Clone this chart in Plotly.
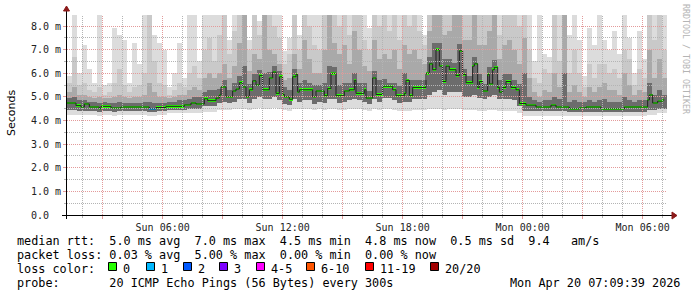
import numpy as np
import pandas as pd
import plotly.graph_objects as go

# ---------------- data ----------------
# median RTT steps (ms) and the time each step starts
med_t = ["2026-04-19 01:13","2026-04-19 01:40","2026-04-19 01:55","2026-04-19 02:05","2026-04-19 02:20",
         "2026-04-19 02:50","2026-04-19 02:55","2026-04-19 03:25","2026-04-19 03:55","2026-04-19 05:20",
         "2026-04-19 05:40","2026-04-19 06:10","2026-04-19 07:05","2026-04-19 07:25","2026-04-19 07:40",
         "2026-04-19 08:05","2026-04-19 08:15","2026-04-19 08:40","2026-04-19 08:50","2026-04-19 08:55",
         "2026-04-19 09:10","2026-04-19 09:30","2026-04-19 09:40","2026-04-19 09:50","2026-04-19 10:00",
         "2026-04-19 10:10","2026-04-19 10:20","2026-04-19 10:30","2026-04-19 10:40","2026-04-19 10:50",
         "2026-04-19 11:00","2026-04-19 11:20","2026-04-19 11:30","2026-04-19 11:40","2026-04-19 11:50",
         "2026-04-19 12:00","2026-04-19 12:05","2026-04-19 12:20","2026-04-19 12:30","2026-04-19 12:40",
         "2026-04-19 12:45","2026-04-19 12:50","2026-04-19 13:30","2026-04-19 13:40","2026-04-19 14:05",
         "2026-04-19 14:15","2026-04-19 14:25","2026-04-19 14:40","2026-04-19 15:05","2026-04-19 15:20",
         "2026-04-19 15:35","2026-04-19 15:40","2026-04-19 16:05","2026-04-19 16:10","2026-04-19 16:30",
         "2026-04-19 16:40","2026-04-19 17:00","2026-04-19 17:30","2026-04-19 17:40","2026-04-19 18:05",
         "2026-04-19 18:10","2026-04-19 18:20","2026-04-19 18:30","2026-04-19 19:10","2026-04-19 19:20",
         "2026-04-19 19:30","2026-04-19 19:40","2026-04-19 19:50","2026-04-19 20:00","2026-04-19 20:10",
         "2026-04-19 20:20","2026-04-19 20:40","2026-04-19 20:50","2026-04-19 21:00","2026-04-19 21:10",
         "2026-04-19 21:30","2026-04-19 21:35","2026-04-19 21:45","2026-04-19 21:50","2026-04-19 22:00",
         "2026-04-19 22:15","2026-04-19 22:20","2026-04-19 22:30","2026-04-19 22:35","2026-04-19 22:45",
         "2026-04-19 22:50","2026-04-19 23:00","2026-04-19 23:10","2026-04-19 23:25","2026-04-19 23:40",
         "2026-04-19 23:50","2026-04-20 00:10","2026-04-20 00:40","2026-04-20 01:25","2026-04-20 01:40",
         "2026-04-20 02:20","2026-04-20 02:50","2026-04-20 03:10","2026-04-20 03:55","2026-04-20 05:05",
         "2026-04-20 06:15","2026-04-20 06:20","2026-04-20 06:30","2026-04-20 06:45","2026-04-20 07:00"]
med_v = [4.74,4.63,4.57,4.70,4.57,4.49,4.60,4.53,4.57,4.49,
         4.55,4.60,4.66,4.74,4.70,4.92,4.84,4.95,5.08,5.42,
         5.00,5.25,5.33,5.60,5.42,5.00,5.30,5.68,5.50,5.90,
         5.30,5.80,6.05,5.15,5.85,5.10,5.00,4.90,5.85,5.95,
         5.20,5.30,5.00,5.25,5.05,5.35,6.00,5.05,5.25,5.30,
         5.70,5.15,5.30,4.95,5.80,5.10,5.45,5.30,5.05,5.15,
         5.70,5.05,5.40,6.00,6.40,6.15,7.00,6.30,5.65,6.30,
         6.15,5.90,6.95,5.95,5.60,6.30,6.40,5.40,5.65,5.25,
         5.95,5.55,6.15,6.25,5.40,5.20,5.40,5.65,5.40,5.30,
         4.72,4.65,4.57,4.65,4.57,4.49,4.53,4.57,4.49,4.57,
         4.87,5.08,4.74,4.82,4.87]
med_end = "2026-04-20 07:05"
# steps with lost pings (time -> number lost); all others lost 0
loss_t = ["2026-04-19 05:20"]
loss_n = [1]

# smoke: 15-minute columns starting at smoke_start (ms)
smoke_start = "2026-04-19 01:13"
smoke_hi = [5.9,8.5,6.0,7.2,6.2,5.6,8.5,5.5,5.6,7.9, 7.6,7.4,5.6,7.3,6.4,8.5,8.5,7.6,7.3,7.0,
            5.4,6.0,7.3,5.8,8.5,8.5,6.5,8.5,8.5,8.5,
            8.5,8.5,7.4,8.5,8.5,8.5,7.4,8.5,8.2,8.5, 8.5,8.5,8.5,6.95,7.5,8.5,7.6,8.5,8.5,8.5,
            8.5,8.5,8.5,8.5,8.5,8.5,8.5,8.5,8.5,8.5, 7.9,8.5,8.5,8.5,8.5,8.5,8.5,8.5,8.5,8.5,
            8.5,7.6,8.5,8.5,8.5,8.5,8.5,8.5,8.5,8.5, 8.5,8.5,8.5,8.5,8.5,8.5,8.5,8.5,8.5,8.5,
            8.5,
            8.5,8.5,6.5,8.5,6.8,6.7,8.5,8.5,8.5,7.6, 8.5,7.4,5.9,7.9,7.2,8.5,7.4,7.0,7.8,6.8,
            8.5,7.5,6.0,7.8,6.6,8.5,8.5,8.5,8.5]
smoke_q90 = [5.6,6.7,5.5,5.6,5.3,5.2,5.4,5.1,5.2,5.6, 6.2,5.5,5.2,5.4,5.5,6.0,8.5,6.5,5.6,5.5,
             5.1,5.3,5.6,5.4,6.0,6.3,5.8,7.0,7.5,6.5,
             7.6,8.5,6.8,7.8,8.5,8.5,7.0,8.5,7.6,8.5, 8.5,8.0,7.5,6.4,6.8,8.5,7.0,8.5,8.0,7.2,
             7.0,8.5,8.5,8.5,8.0,8.5,7.6,8.5,8.5,7.4, 7.0,8.5,8.0,8.5,7.8,8.5,7.4,8.5,8.0,8.5,
             7.8,7.2,8.5,8.5,8.5,8.5,8.5,8.5,8.5,8.5, 8.5,8.5,8.5,8.5,8.5,8.5,7.6,8.5,8.5,8.5,
             8.0,
             8.5,7.0,5.8,5.6,6.2,6.0,8.5,6.5,8.5,6.0, 7.0,6.0,5.4,6.4,5.8,6.4,6.4,6.0,6.2,5.8,
             7.0,6.6,5.5,6.2,5.8,8.5,7.4,8.5,7.0]
smoke_q75 = [5.2,5.4,5.1,5.1,5.0,4.95,5.0,4.95,4.95,5.0, 5.1,5.0,4.95,5.0,5.0,5.1,5.6,5.2,5.0,5.0,
             4.95,5.0,5.1,5.1,5.3,5.4,5.3,5.8,6.0,5.8,
             6.0,6.4,5.8,6.3,7.3,8.5,6.1,6.8,6.6,8.5, 7.0,6.8,6.4,5.7,5.8,6.8,6.2,7.4,6.6,6.0,
             6.0,7.0,8.5,7.3,6.8,7.2,6.4,7.8,7.0,6.3, 6.1,7.4,6.6,6.8,6.6,7.0,6.2,7.2,6.8,7.0,
             6.6,6.4,7.8,8.5,8.5,7.6,7.8,8.5,8.5,7.4, 7.4,8.5,7.2,7.2,7.8,8.5,6.6,7.2,7.4,7.0,
             6.4,
             7.5,5.8,5.2,5.0,5.3,5.2,6.0,5.4,8.5,5.2, 5.5,5.2,5.0,5.4,5.2,5.4,5.6,5.3,5.3,5.1,
             6.0,5.5,5.1,5.3,5.2,7.0,5.8,6.6,5.8]
smoke_q60 = [4.95,5.0,4.85,4.85,4.8,4.8,4.75,4.8,4.75,4.75, 4.8,4.75,4.75,4.75,4.75,4.8,4.8,4.75,4.75,4.75,
             4.8,4.8,4.85,4.85,4.9,5.0,5.0,5.2,5.3,5.3,
             5.35,5.7,5.3,5.6,5.9,6.3,5.55,5.95,6.15,6.0, 6.05,6.3,6.1,5.4,5.3,6.2,5.6,5.7,5.6,5.5,
             5.5,5.6,6.3,6.25,5.5,5.6,5.6,6.0,5.6,5.6, 5.25,6.1,5.7,5.75,5.6,5.6,5.45,6.0,5.7,5.7,
             5.7,5.7,6.7,7.3,7.3,6.6,6.6,6.45,7.25,6.2, 5.9,6.7,5.95,5.55,6.25,6.55,5.7,5.95,5.95,5.7,
             5.55,
             6.0,5.0,4.85,4.8,4.85,4.85,5.0,4.9,6.0,4.8, 4.85,4.8,4.8,4.85,4.8,4.85,4.9,4.8,4.8,4.8,
             5.0,4.85,4.8,4.85,4.85,5.6,5.1,5.3,5.1]
smoke_core_lo = [4.45,4.45,4.4,4.4,4.4,4.4,4.35,4.4,4.4,4.35, 4.4,4.4,4.4,4.4,4.4,4.4,4.35,4.35,4.4,4.4,
                 4.45,4.45,4.45,4.45,4.5,4.5,4.5,4.6,4.6,4.6,
                 4.75,4.8,4.75,4.8,4.9,4.9,4.75,4.9,5.0,4.9, 4.9,5.0,4.85,4.7,4.65,4.9,4.8,4.85,4.85,4.7,
                 4.8,4.75,4.9,4.9,4.75,4.8,4.85,4.9,4.85,4.8, 4.7,4.9,4.8,4.95,4.95,4.85,4.75,4.8,4.8,4.9,
                 4.9,4.9,5.1,5.2,5.3,5.1,5.2,5.2,5.2,5.0, 5.0,5.1,4.95,4.9,5.0,5.1,4.9,4.9,4.9,4.85,
                 4.6,
                 4.4,4.4,4.4,4.4,4.4,4.4,4.4,4.4,4.4,4.35, 4.35,4.35,4.35,4.35,4.35,4.35,4.35,4.35,4.35,4.35,
                 4.35,4.35,4.35,4.35,4.35,4.45,4.45,4.5,4.5]
smoke_lo = [4.25,4.25,4.25,4.25,4.25,4.25,4.2,4.25,4.25,4.2, 4.25,4.25,4.25,4.25,4.25,4.25,4.2,4.2,4.25,4.25,
            4.3,4.3,4.3,4.3,4.3,4.3,4.3,4.35,4.35,4.35,
            4.45,4.45,4.45,4.5,4.5,4.5,4.45,4.5,4.55,4.5, 4.5,4.55,4.5,4.45,4.4,4.5,4.5,4.5,4.5,4.45,
            4.5,4.45,4.5,4.5,4.45,4.45,4.5,4.5,4.5,4.45, 4.4,4.5,4.45,4.5,4.5,4.45,4.4,4.4,4.4,4.45,
            4.45,4.45,4.5,4.5,4.5,4.45,4.5,4.5,4.5,4.45, 4.45,4.45,4.4,4.4,4.45,4.45,4.4,4.4,4.4,4.4,
            4.3,
            4.2,4.2,4.2,4.2,4.2,4.2,4.2,4.2,4.2,4.2, 4.2,4.2,4.2,4.2,4.2,4.2,4.2,4.2,4.2,4.2,
            4.2,4.2,4.2,4.2,4.2,4.25,4.25,4.3,4.3]

# axis ticks
x_tick_vals = ["2026-04-19 03:00","2026-04-19 06:00","2026-04-19 09:00","2026-04-19 12:00",
               "2026-04-19 15:00","2026-04-19 18:00","2026-04-19 21:00","2026-04-20 00:00",
               "2026-04-20 03:00","2026-04-20 06:00"]
x_tick_text = ["","Sun 06:00","","Sun 12:00","","Sun 18:00","","Mon 00:00","","Mon 06:00"]
x_minor_vals = ["2026-04-19 02:00","2026-04-19 04:00","2026-04-19 05:00","2026-04-19 07:00",
                "2026-04-19 08:00","2026-04-19 10:00","2026-04-19 11:00","2026-04-19 13:00",
                "2026-04-19 14:00","2026-04-19 16:00","2026-04-19 17:00","2026-04-19 19:00",
                "2026-04-19 20:00","2026-04-19 22:00","2026-04-19 23:00","2026-04-20 01:00",
                "2026-04-20 02:00","2026-04-20 04:00","2026-04-20 05:00","2026-04-20 07:00"]
y_tick_vals = [0,1,2,3,4,5,6,7,8]
y_tick_text = ["0.0\u00a0\u00a0","1.0 m","2.0 m","3.0 m","4.0 m","5.0 m","6.0 m","7.0 m","8.0 m"]

# legend / statistics text
stat_lines = [
    "median rtt:  5.0 ms avg  7.0 ms max  4.5 ms min  4.8 ms now  0.5 ms sd  9.4   am/s",
    "packet loss: 0.03 % avg  5.00 % max  0.00 % min  0.00 % now",
    "loss color:",
    "probe:       20 ICMP Echo Pings (56 Bytes) every 300s",
]
stamp = "Mon Apr 20 07:09:39 2026"
loss_labels = ["0","1","2","3","4-5","6-10","11-19","20/20"]
loss_colors = ["#26ff00","#00b8ff","#0059ff","#7e00ff","#ff00ff","#ff5500","#ff0000","#a10000"]

# ---------------- geometry ----------------
W, H = 697, 297
L, R, T, B = 67, 30, 15, 82
PW, PH = W - L - R, H - T - B
x_start = pd.Timestamp("2026-04-19 01:13")
x_end = pd.Timestamp("2026-04-20 07:13")
y_max = PH / 23.625


def pxx(x):
    return float((x - L) / PW)


def pyy(y):
    return float((T + PH - y) / PH)


def time_px(t):
    return L + (pd.Timestamp(t) - x_start).total_seconds() / (30 * 3600) * PW


MONO = "DejaVu Sans Mono"
RED_GRID = "#e39a9a"
GRAY_GRID = "#b4b4b4"

fig = go.Figure()

# smoke layers
sx = pd.date_range(pd.Timestamp(smoke_start) + pd.Timedelta(minutes=7.5), periods=len(smoke_hi), freq="15min")
col_w = 15 * 60 * 1000
layers = [
    (smoke_lo, smoke_hi, "#dcdcdc"),
    (smoke_core_lo, smoke_q90, "#c9c9c9"),
    (smoke_core_lo, smoke_q75, "#a9a9a9"),
    (smoke_core_lo, smoke_q60, "#6c6c6c"),
]
for lo, hi, col in layers:
    fig.add_trace(go.Bar(x=sx, base=lo, y=[h - l for l, h in zip(lo, hi)], width=col_w,
                         marker=dict(color=col, line=dict(width=0)), hoverinfo="skip",
                         showlegend=False))

# median: dark step line + loss-coloured segments
mt = pd.to_datetime(med_t)
mt_all = list(mt) + [pd.Timestamp(med_end)]
fig.add_trace(go.Scatter(x=mt_all, y=med_v + [med_v[-1]], mode="lines",
                         line=dict(shape="hv", color="#202020", width=1),
                         hoverinfo="skip", showlegend=False))
loss_map = dict(zip(pd.to_datetime(loss_t), loss_n))
loss_color_of = {0: loss_colors[0], 1: loss_colors[1], 2: loss_colors[2], 3: loss_colors[3]}
seg_colors = [loss_color_of.get(loss_map.get(t, 0), loss_colors[0]) for t in mt]
durs = [(mt_all[i + 1] - mt_all[i]).total_seconds() * 1000 for i in range(len(mt))]
seg_h = 0.11
fig.add_trace(go.Bar(x=mt, base=[v - seg_h / 2 for v in med_v], y=[seg_h] * len(med_v),
                     width=durs, offset=0, marker=dict(color=seg_colors, line=dict(width=0)),
                     hoverinfo="skip", showlegend=False))

# ---------------- grid / axes as overlay shapes ----------------
shapes = []
for k in range(1, 17):
    v = k * 0.5
    yp = np.floor(T + PH - v * PH / y_max) + 0.5
    shapes.append(dict(type="line", xref="paper", yref="paper", x0=0.0, x1=1.0,
                       y0=pyy(yp), y1=pyy(yp), layer="above",
                       line=dict(color=RED_GRID if k % 2 == 0 else GRAY_GRID, width=1, dash="1px,1px")))
for t in x_minor_vals:
    xp = np.floor(time_px(t)) + 0.5
    shapes.append(dict(type="line", xref="paper", yref="paper", x0=pxx(xp), x1=pxx(xp),
                       y0=0.0, y1=1.0, layer="above",
                       line=dict(color=GRAY_GRID, width=1, dash="1px,1px")))
for t in x_tick_vals:
    xp = np.floor(time_px(t)) + 0.5
    shapes.append(dict(type="line", xref="paper", yref="paper", x0=pxx(xp), x1=pxx(xp),
                       y0=0.0, y1=1.0, layer="above",
                       line=dict(color=RED_GRID, width=1, dash="1px,1px")))
# axis lines
shapes.append(dict(type="line", xref="paper", yref="paper", x0=pxx(62), x1=pxx(672),
                   y0=pyy(215.5), y1=pyy(215.5), layer="above", line=dict(color="#000000", width=1)))
shapes.append(dict(type="line", xref="paper", yref="paper", x0=pxx(66.5), x1=pxx(66.5),
                   y0=pyy(219), y1=pyy(10), layer="above", line=dict(color="#000000", width=1)))
# arrows
ARROW = "#8b1a1a"
shapes.append(dict(type="path", xref="paper", yref="paper", layer="above",
                   path=f"M {pxx(672)},{pyy(212)} L {pxx(677)},{pyy(215.5)} L {pxx(672)},{pyy(219)} Z",
                   fillcolor=ARROW, line=dict(color=ARROW, width=1)))
shapes.append(dict(type="path", xref="paper", yref="paper", layer="above",
                   path=f"M {pxx(63.5)},{pyy(11)} L {pxx(66.5)},{pyy(6)} L {pxx(69.5)},{pyy(11)} Z",
                   fillcolor=ARROW, line=dict(color=ARROW, width=1)))

# legend boxes
box_x = [108, 146, 183, 219, 256, 306, 365, 430]
for bx, col in zip(box_x, loss_colors):
    shapes.append(dict(type="rect", xref="paper", yref="paper", layer="above",
                       x0=pxx(bx + 0.5), x1=pxx(bx + 8.5), y0=pyy(262.5), y1=pyy(270.5),
                       fillcolor=col, line=dict(color="#000000", width=1)))

annotations = []
def nb(s):
    return s.replace(" ", "\u00a0")

row_y = [241, 255, 268.5, 282.5]
for txt, yy in zip(stat_lines, row_y):
    annotations.append(dict(text=nb(txt), xref="paper", yref="paper", x=pxx(16), y=pyy(yy),
                            xanchor="left", yanchor="middle", showarrow=False, borderpad=0,
                            font=dict(family=MONO, size=11.8, color="#000000")))
for bx, lab in zip(box_x, loss_labels):
    annotations.append(dict(text=nb(lab), xref="paper", yref="paper", x=pxx(bx + 14), y=pyy(row_y[2]),
                            xanchor="left", yanchor="middle", showarrow=False, borderpad=0,
                            font=dict(family=MONO, size=11.8, color="#000000")))
annotations.append(dict(text=nb(stamp), xref="paper", yref="paper", x=pxx(681), y=pyy(row_y[3]),
                        xanchor="right", yanchor="middle", showarrow=False, borderpad=0,
                        font=dict(family=MONO, size=11.8, color="#000000")))
annotations.append(dict(text="Seconds", xref="paper", yref="paper", x=pxx(11), y=pyy(113),
                        xanchor="center", yanchor="middle", textangle=-90, showarrow=False,
                        borderpad=0, font=dict(family="DejaVu Sans", size=11, color="#000000")))
annotations.append(dict(text=nb("RRDTOOL / TOBI OETIKER"), xref="paper", yref="paper", x=pxx(686),
                        y=pyy(59), xanchor="center", yanchor="middle", textangle=90, showarrow=False,
                        borderpad=0, font=dict(family=MONO, size=8.3, color="#b4b4b4")))

fig.update_layout(
    width=W, height=H, margin=dict(l=L, r=R, t=T, b=B, pad=0),
    paper_bgcolor="#ffffff", plot_bgcolor="#ffffff",
    barmode="overlay", bargap=0, showlegend=False,
    shapes=shapes, annotations=annotations,
    xaxis=dict(type="date", range=[x_start, x_end], tickmode="array",
               tickvals=x_tick_vals, ticktext=x_tick_text, ticks="outside", ticklen=3,
               tickcolor=RED_GRID, tickwidth=1, showgrid=False, zeroline=False, showline=False,
               tickfont=dict(family=MONO, size=10, color="#222222"),
               minor=dict(dtick=3600000, tick0="2026-04-19 00:00", ticks="outside", ticklen=2,
                          tickcolor=GRAY_GRID, showgrid=False)),
    yaxis=dict(range=[0, y_max], tickmode="array", tickvals=y_tick_vals, ticktext=y_tick_text,
               ticks="outside", ticklen=3, tickcolor=RED_GRID, tickwidth=1, showgrid=False,
               zeroline=False, showline=False,
               tickfont=dict(family=MONO, size=10, color="#222222"),
               minor=dict(dtick=0.5, ticks="outside", ticklen=2, tickcolor=GRAY_GRID, showgrid=False)),
)

fig.write_html("out.html")
